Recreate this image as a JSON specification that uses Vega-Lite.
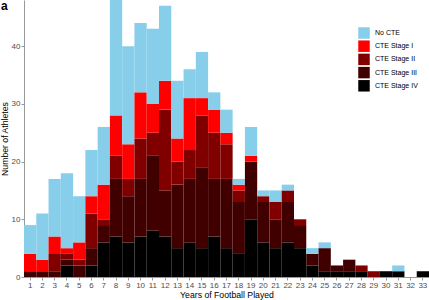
{
  "$schema": "https://vega.github.io/schema/vega-lite/v6.json",
  "width": 405,
  "height": 277,
  "autosize": {"type": "none"},
  "padding": {"left": 24, "top": 0, "right": 0, "bottom": 23},
  "background": "white",
  "title": {"text": "a", "anchor": "start", "frame": "group", "orient": "top", "offset": -22, "dx": -23, "fontSize": 12, "fontWeight": "bold", "font": "Liberation Sans", "color": "black", "baseline": "alphabetic"},
  "config": {
    "font": "Liberation Sans",
    "view": {"stroke": null},
    "axis": {"grid": false, "domainColor": "#999999", "tickColor": "#999999", "labelColor": "#4d4d4d", "titleColor": "black", "titleFontWeight": "normal", "labelFont": "Liberation Sans", "titleFont": "Liberation Sans"}
  },
  "data": {"values": [
    {"years": 1, "stage": "CTE Stage III", "n": 1}, {"years": 1, "stage": "CTE Stage I", "n": 3}, {"years": 1, "stage": "No CTE", "n": 5},
    {"years": 2, "stage": "CTE Stage III", "n": 1}, {"years": 2, "stage": "CTE Stage I", "n": 2}, {"years": 2, "stage": "No CTE", "n": 8},
    {"years": 3, "stage": "CTE Stage III", "n": 1}, {"years": 3, "stage": "CTE Stage II", "n": 3}, {"years": 3, "stage": "CTE Stage I", "n": 3}, {"years": 3, "stage": "No CTE", "n": 10},
    {"years": 4, "stage": "CTE Stage IV", "n": 2}, {"years": 4, "stage": "CTE Stage III", "n": 1}, {"years": 4, "stage": "CTE Stage II", "n": 1}, {"years": 4, "stage": "CTE Stage I", "n": 1}, {"years": 4, "stage": "No CTE", "n": 13},
    {"years": 5, "stage": "CTE Stage III", "n": 2}, {"years": 5, "stage": "CTE Stage II", "n": 1}, {"years": 5, "stage": "CTE Stage I", "n": 3}, {"years": 5, "stage": "No CTE", "n": 8},
    {"years": 6, "stage": "CTE Stage IV", "n": 2}, {"years": 6, "stage": "CTE Stage III", "n": 3}, {"years": 6, "stage": "CTE Stage II", "n": 6}, {"years": 6, "stage": "CTE Stage I", "n": 3}, {"years": 6, "stage": "No CTE", "n": 8},
    {"years": 7, "stage": "CTE Stage IV", "n": 6}, {"years": 7, "stage": "CTE Stage III", "n": 3}, {"years": 7, "stage": "CTE Stage II", "n": 1}, {"years": 7, "stage": "CTE Stage I", "n": 6}, {"years": 7, "stage": "No CTE", "n": 10},
    {"years": 8, "stage": "CTE Stage IV", "n": 7}, {"years": 8, "stage": "CTE Stage III", "n": 10}, {"years": 8, "stage": "CTE Stage II", "n": 4}, {"years": 8, "stage": "CTE Stage I", "n": 7}, {"years": 8, "stage": "No CTE", "n": 20},
    {"years": 9, "stage": "CTE Stage IV", "n": 6}, {"years": 9, "stage": "CTE Stage III", "n": 8}, {"years": 9, "stage": "CTE Stage II", "n": 3}, {"years": 9, "stage": "CTE Stage I", "n": 6}, {"years": 9, "stage": "No CTE", "n": 17},
    {"years": 10, "stage": "CTE Stage IV", "n": 7}, {"years": 10, "stage": "CTE Stage III", "n": 10}, {"years": 10, "stage": "CTE Stage II", "n": 7}, {"years": 10, "stage": "CTE Stage I", "n": 8}, {"years": 10, "stage": "No CTE", "n": 12},
    {"years": 11, "stage": "CTE Stage IV", "n": 8}, {"years": 11, "stage": "CTE Stage III", "n": 13}, {"years": 11, "stage": "CTE Stage II", "n": 4}, {"years": 11, "stage": "CTE Stage I", "n": 5}, {"years": 11, "stage": "No CTE", "n": 13},
    {"years": 12, "stage": "CTE Stage IV", "n": 7}, {"years": 12, "stage": "CTE Stage III", "n": 8}, {"years": 12, "stage": "CTE Stage II", "n": 14}, {"years": 12, "stage": "CTE Stage I", "n": 5}, {"years": 12, "stage": "No CTE", "n": 13},
    {"years": 13, "stage": "CTE Stage IV", "n": 5}, {"years": 13, "stage": "CTE Stage III", "n": 11}, {"years": 13, "stage": "CTE Stage II", "n": 4}, {"years": 13, "stage": "CTE Stage I", "n": 4}, {"years": 13, "stage": "No CTE", "n": 10},
    {"years": 14, "stage": "CTE Stage IV", "n": 6}, {"years": 14, "stage": "CTE Stage III", "n": 11}, {"years": 14, "stage": "CTE Stage II", "n": 5}, {"years": 14, "stage": "CTE Stage I", "n": 9}, {"years": 14, "stage": "No CTE", "n": 5},
    {"years": 15, "stage": "CTE Stage IV", "n": 5}, {"years": 15, "stage": "CTE Stage III", "n": 14}, {"years": 15, "stage": "CTE Stage II", "n": 9}, {"years": 15, "stage": "CTE Stage I", "n": 3}, {"years": 15, "stage": "No CTE", "n": 8},
    {"years": 16, "stage": "CTE Stage IV", "n": 7}, {"years": 16, "stage": "CTE Stage III", "n": 10}, {"years": 16, "stage": "CTE Stage II", "n": 8}, {"years": 16, "stage": "CTE Stage I", "n": 4}, {"years": 16, "stage": "No CTE", "n": 3},
    {"years": 17, "stage": "CTE Stage IV", "n": 5}, {"years": 17, "stage": "CTE Stage III", "n": 12}, {"years": 17, "stage": "CTE Stage II", "n": 6}, {"years": 17, "stage": "CTE Stage I", "n": 2}, {"years": 17, "stage": "No CTE", "n": 4},
    {"years": 18, "stage": "CTE Stage IV", "n": 4}, {"years": 18, "stage": "CTE Stage III", "n": 9}, {"years": 18, "stage": "CTE Stage II", "n": 2}, {"years": 18, "stage": "CTE Stage I", "n": 1}, {"years": 18, "stage": "No CTE", "n": 1},
    {"years": 19, "stage": "CTE Stage IV", "n": 10}, {"years": 19, "stage": "CTE Stage III", "n": 10}, {"years": 19, "stage": "CTE Stage I", "n": 1}, {"years": 19, "stage": "No CTE", "n": 5},
    {"years": 20, "stage": "CTE Stage IV", "n": 6}, {"years": 20, "stage": "CTE Stage III", "n": 7}, {"years": 20, "stage": "CTE Stage II", "n": 1}, {"years": 20, "stage": "No CTE", "n": 1},
    {"years": 21, "stage": "CTE Stage IV", "n": 5}, {"years": 21, "stage": "CTE Stage III", "n": 5}, {"years": 21, "stage": "CTE Stage II", "n": 3}, {"years": 21, "stage": "No CTE", "n": 2},
    {"years": 22, "stage": "CTE Stage IV", "n": 6}, {"years": 22, "stage": "CTE Stage III", "n": 7}, {"years": 22, "stage": "CTE Stage II", "n": 2}, {"years": 22, "stage": "No CTE", "n": 1},
    {"years": 23, "stage": "CTE Stage IV", "n": 5}, {"years": 23, "stage": "CTE Stage III", "n": 4}, {"years": 23, "stage": "CTE Stage II", "n": 1},
    {"years": 24, "stage": "CTE Stage IV", "n": 2}, {"years": 24, "stage": "CTE Stage III", "n": 2}, {"years": 24, "stage": "No CTE", "n": 1},
    {"years": 25, "stage": "CTE Stage IV", "n": 1}, {"years": 25, "stage": "CTE Stage III", "n": 4}, {"years": 25, "stage": "No CTE", "n": 1},
    {"years": 26, "stage": "CTE Stage IV", "n": 1}, {"years": 26, "stage": "CTE Stage III", "n": 1},
    {"years": 27, "stage": "CTE Stage IV", "n": 1}, {"years": 27, "stage": "CTE Stage III", "n": 2},
    {"years": 28, "stage": "CTE Stage IV", "n": 1}, {"years": 28, "stage": "CTE Stage II", "n": 1},
    {"years": 29, "stage": "CTE Stage II", "n": 1},
    {"years": 30, "stage": "CTE Stage IV", "n": 1},
    {"years": 31, "stage": "CTE Stage IV", "n": 1}, {"years": 31, "stage": "No CTE", "n": 1},
    {"years": 32, "stage": "No CTE", "n": 0},
    {"years": 33, "stage": "CTE Stage IV", "n": 1}
  ]},
  "transform": [
    {"calculate": "indexof(['CTE Stage IV', 'CTE Stage III', 'CTE Stage II', 'CTE Stage I', 'No CTE'], datum.stage)", "as": "stackrank"}
  ],
  "mark": {"type": "bar", "strokeWidth": 0},
  "encoding": {
    "x": {
      "field": "years", "type": "ordinal",
      "scale": {"paddingInner": 0, "paddingOuter": 0},
      "axis": {"title": "Years of Football Played", "labelAngle": 0, "labelFontSize": 8, "labelPadding": 1, "tickSize": 3, "titleFontSize": 8.7, "titlePadding": 1}
    },
    "y": {
      "aggregate": "sum", "field": "n", "type": "quantitative",
      "scale": {"domain": [0, 48], "nice": false},
      "axis": {"title": "Number of Athletes", "values": [0, 10, 20, 30, 40], "labelFontSize": 8, "labelPadding": 1, "tickSize": 3, "titleFontSize": 8.7, "titlePadding": 2}
    },
    "order": {"field": "stackrank", "type": "quantitative", "sort": "ascending"},
    "color": {
      "field": "stage", "type": "nominal",
      "scale": {"domain": ["No CTE", "CTE Stage I", "CTE Stage II", "CTE Stage III", "CTE Stage IV"], "range": ["#87CEEB", "#FF0000", "#800000", "#400000", "#000000"]},
      "legend": {"title": null, "orient": "none", "legendX": 334, "legendY": 27, "symbolType": "square", "symbolSize": 132, "symbolStrokeWidth": 0, "symbolOpacity": 1, "labelFontSize": 7, "labelOffset": 5, "rowPadding": 1.2, "labelColor": "black", "padding": 0}
    }
  }
}
